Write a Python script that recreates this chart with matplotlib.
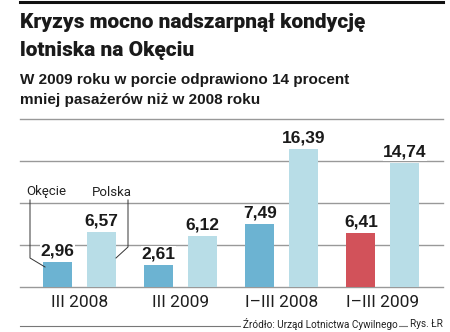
import matplotlib.pyplot as plt
from matplotlib.lines import Line2D
import numpy as np

categories = ['III 2008', 'III 2009', 'I\u2013III 2008', 'I\u2013III 2009']
okecie = [2.96, 2.61, 7.49, 6.41]
polska = [6.57, 6.12, 16.39, 14.74]
okecie_colors = ['#6cb3d2', '#6cb3d2', '#6cb3d2', '#d2525a']
polska_color = '#b8dde7'
grid_ticks = [0, 5, 10, 15, 20]

W, H = 450, 332


def fx(px):
    return px / W


def fy(py):
    return 1 - py / H


fig = plt.figure(figsize=(4.5, 3.32), dpi=100)

# top rule
fig.add_artist(Line2D([fx(20), fx(443)], [fy(2), fy(2)], color='#111111', lw=2.2))

title_kw = dict(family=['Roboto', 'DejaVu Sans'], weight='black', color='#1a1a1a')
fig.text(fx(20), fy(22), 'Kryzys mocno nadszarpnął kondycję', fontsize=15, va='center', **title_kw)
fig.text(fx(20), fy(50), 'lotniska na Okęciu', fontsize=15, va='center', **title_kw)
sub_kw = dict(family=['Liberation Sans', 'DejaVu Sans'], weight='bold', color='#1a1a1a',
              fontsize=11, va='center')
fig.text(fx(20), fy(80), 'W 2009 roku w porcie odprawiono 14 procent', **sub_kw)
fig.text(fx(20), fy(100), 'mniej pasażerów niż w 2008 roku', **sub_kw)

ax = fig.add_axes([fx(20), fy(287), fx(443) - fx(20), (287 - 119) / H])
x = np.arange(len(categories))
off = 0.218
bw = 0.287
ax.set_xlim(-0.589, 3.594)
ax.set_ylim(0, 20)
for t in grid_ticks:
    ax.axhline(t, color='#999999', lw=1.0, zorder=0, clip_on=False)

ax.bar(x - off, okecie, bw, color=okecie_colors, zorder=2)
ax.bar(x + off, polska, bw, color=polska_color, zorder=2)

lbl_kw = dict(ha='center', va='bottom', fontsize=12.5, weight='bold', color='#1a1a1a',
              family=['Liberation Sans', 'DejaVu Sans'],
              bbox=dict(facecolor='white', edgecolor='none', pad=0.5), zorder=3)
for i in range(len(categories)):
    ax.text(x[i] - off, okecie[i] + 0.4, f'{okecie[i]:.2f}'.replace('.', ','), **lbl_kw)
    ax.text(x[i] + off, polska[i] + 0.4, f'{polska[i]:.2f}'.replace('.', ','), **lbl_kw)
    ax.text(x[i], -0.9, categories[i], ha='center', va='top', fontsize=12.5,
            color='#1e1e1e', family=['Roboto', 'DejaVu Sans'])

ax.set_xticks([])
ax.set_yticks([])
for s in ax.spines.values():
    s.set_visible(False)

# legend callouts
fig.text(fx(26), fy(192), 'Okęcie', fontsize=9.5, va='center', ha='left', color='#222222',
         family=['Roboto', 'DejaVu Sans'])
fig.text(fx(92), fy(192), 'Polska', fontsize=9.5, va='center', ha='left', color='#222222',
         family=['Roboto', 'DejaVu Sans'])
fig.add_artist(Line2D([fx(30), fx(30), fx(45)], [fy(200), fy(258), fy(267)], color='#333333', lw=0.7))
fig.add_artist(Line2D([fx(128), fx(128), fx(116)], [fy(200), fy(247), fy(258)], color='#333333', lw=0.7))

# footer
fig.add_artist(Line2D([fx(20), fx(443)], [fy(326), fy(326)], color='#777777', lw=0.8))
foot_kw = dict(fontsize=7.2, va='center', color='#222222', family=['Roboto', 'DejaVu Sans'],
               bbox=dict(facecolor='white', edgecolor='none', pad=1.2))
fig.text(fx(243), fy(324), 'Źródło: Urząd Lotnictwa Cywilnego', ha='left', **foot_kw)
fig.text(fx(443), fy(324), 'Rys. ŁR', ha='right', **foot_kw)

fig.savefig('out.png', dpi=100)
